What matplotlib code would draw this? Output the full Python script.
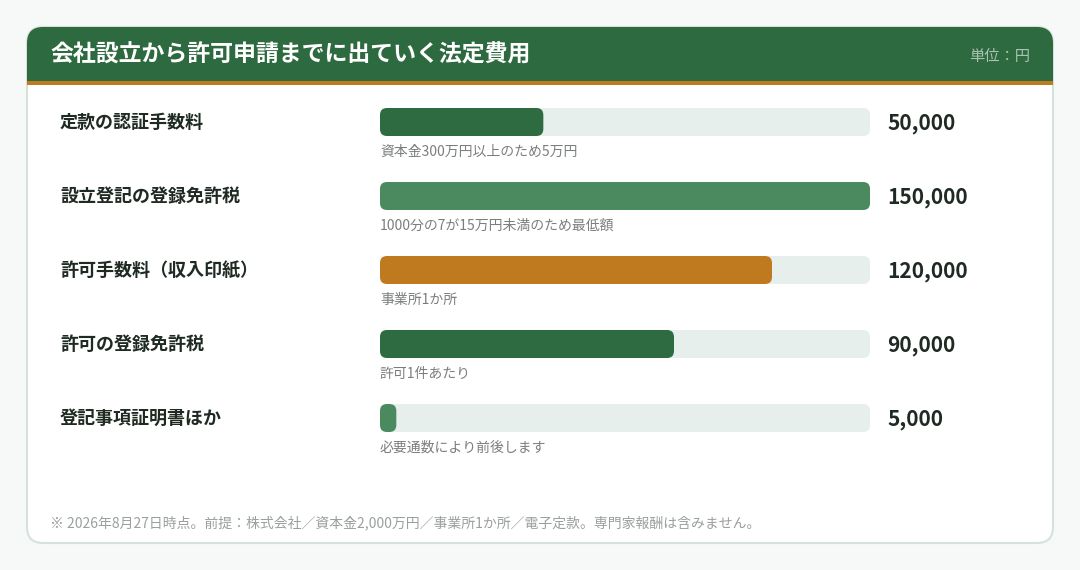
import matplotlib
matplotlib.use("Agg")
import matplotlib.pyplot as plt
from matplotlib.patches import FancyBboxPatch, Rectangle

plt.rcParams['font.family'] = ['Noto Sans CJK JP', 'DejaVu Sans']

title = "会社設立から許可申請までに出ていく法定費用"
unit = "単位：円"
items = ["定款の認証手数料", "設立登記の登録免許税", "許可手数料（収入印紙）", "許可の登録免許税", "登記事項証明書ほか"]
values = [50000, 150000, 120000, 90000, 5000]
notes = ["資本金300万円以上のため5万円", "1000分の7が15万円未満のため最低額", "事業所1か所", "許可1件あたり", "必要通数により前後します"]
colors = ["#2f6b40", "#4a8a5e", "#bf7a1f", "#2f6b40", "#4a8a5e"]
footnote = "※ 2026年8月27日時点。前提：株式会社／資本金2,000万円／事業所1か所／電子定款。専門家報酬は含みません。"

W, H = 1080, 570
fig = plt.figure(figsize=(W / 100, H / 100), dpi=100)
fig.patch.set_facecolor("#f6f9f7")
ax = fig.add_axes([0, 0, 1, 1])
ax.set_xlim(0, W)
ax.set_ylim(H, 0)
ax.axis("off")

# card
ax.add_patch(FancyBboxPatch((27, 27), 1026, 516, boxstyle="round,pad=0,rounding_size=16",
                            fc="white", ec="#d5e2da", lw=1.5))
ax.add_patch(FancyBboxPatch((27, 27), 1026, 58, boxstyle="round,pad=0,rounding_size=16",
                            fc="#2e6a3f", ec="none"))
ax.add_patch(Rectangle((27, 60), 1026, 22, fc="#2e6a3f", ec="none"))
ax.add_patch(Rectangle((27, 81), 1026, 4, fc="#c07a1e", ec="none"))
ax.text(50, 55, title, color="white", fontsize=16.5, fontweight="bold", va="center")
ax.text(1030, 57, unit, color="#a9c2b1", fontsize=11, va="center", ha="right")

x0, track_w, bar_h = 380, 490, 28
vmax = max(values)
for i, (name, v, note, c) in enumerate(zip(items, values, notes, colors)):
    yc = 122 + i * 74
    ax.text(60, yc, name, fontsize=13, fontweight="bold", color="#1e2a22", va="center")
    ax.add_patch(FancyBboxPatch((x0, yc - bar_h / 2), track_w, bar_h,
                                boxstyle="round,pad=0,rounding_size=7", fc="#e6efeb", ec="none"))
    ax.add_patch(FancyBboxPatch((x0, yc - bar_h / 2), track_w * v / vmax, bar_h,
                                boxstyle="round,pad=0,rounding_size=7", fc=c, ec="none"))
    ax.text(887, yc + 1, f"{v:,}", fontsize=15, fontweight="bold", color="#1e2a22", va="center")
    ax.text(x0, yc + 30, note, fontsize=10, color="#7a7f7c", va="center")

ax.text(50, 523, footnote, fontsize=10, color="#9aa09c", va="center")

fig.savefig("out.png", dpi=100, facecolor=fig.get_facecolor())
